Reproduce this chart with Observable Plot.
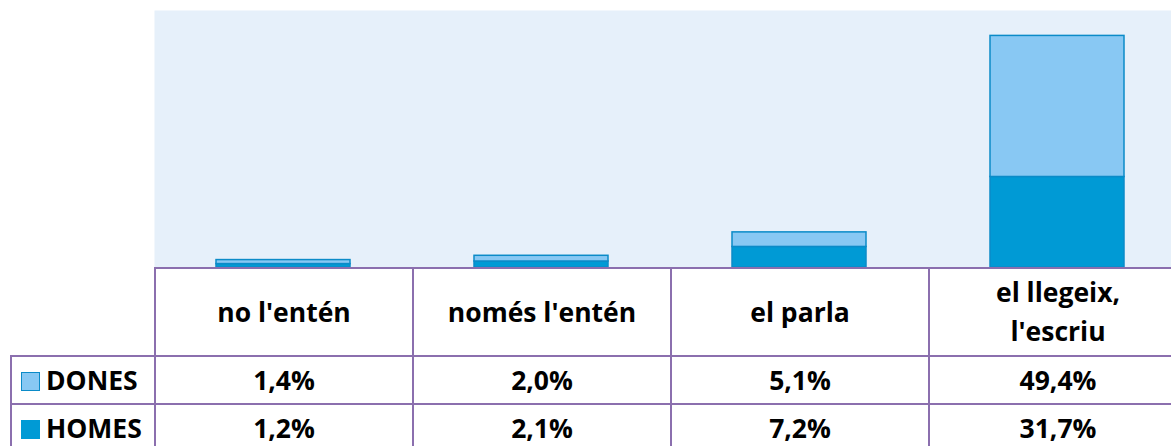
<!DOCTYPE html>
<html>
<head>
<meta charset="utf-8">
<script src="https://cdn.jsdelivr.net/npm/d3@7"></script>
<script src="https://cdn.jsdelivr.net/npm/@observablehq/plot@0.6"></script>
<style>
  html, body { margin: 0; padding: 0; background: #fff; }
  #wrap { position: relative; width: 1171px; height: 446px; overflow: hidden; font-family: "Open Sans", Lato, sans-serif; }
  #chart { position: absolute; left: 0; top: 0; }
  #tbl { position: absolute; left: 10px; top: 267px; border-collapse: collapse; table-layout: fixed; width: 1176px; }
  #tbl td { border: 2px solid #8b6fae; text-align: center; font-weight: bold; font-size: 26.5px; color: #000; padding: 0; }
  #tbl tr.head td { height: 86px; line-height: 39px; }
  #tbl tr.row td { height: 46px; line-height: 46px; }
  #tbl td.blank { border-top: none; border-left: none; border-bottom: 2px solid #8b6fae; }
  #tbl td.lab { text-align: left; padding-left: 9px; }
  .sw { display: inline-block; width: 19px; height: 19px; vertical-align: -1px; margin-right: 6px; box-sizing: border-box; }
</style>
</head>
<body>
<div id="wrap">
  <div id="chart"></div>
  <table id="tbl"></table>
</div>
<script>
const categories = ["no l'entén", "només l'entén", "el parla", "el llegeix, l'escriu"];
const headerLabels = [["no l'entén"], ["només l'entén"], ["el parla"], ["el llegeix,", "l'escriu"]];
const series = ["DONES", "HOMES"];
const dones = [1.4, 2.0, 5.1, 49.4];
const homes = [1.2, 2.1, 7.2, 31.7];
const colors = { DONES: "#88c8f3", HOMES: "#009ad5" };
const strokeColor = "#0b8bc8";

const data = [];
categories.forEach((c, i) => {
  data.push({ cat: c, series: "HOMES", value: homes[i] });
  data.push({ cat: c, series: "DONES", value: dones[i] });
});

const chart = Plot.plot({
  width: 1171,
  height: 267,
  marginTop: 10,
  marginBottom: 0,
  marginLeft: 154,
  marginRight: 0,
  x: { domain: categories, range: [154, 1186], paddingInner: 0.48, paddingOuter: 0.24, axis: null },
  y: { domain: [0, 90], axis: null },
  color: { domain: series, range: [colors.DONES, colors.HOMES] },
  marks: [
    Plot.frame({ fill: "#e6f0fa", stroke: null }),
    Plot.barY(data, Plot.stackY({ order: null }, { x: "cat", y: "value", fill: "series", stroke: strokeColor, strokeWidth: 1.5 }))
  ]
});
document.getElementById("chart").appendChild(chart);

const fmt = v => v.toFixed(1).replace(".", ",") + "%";
const tbl = document.getElementById("tbl");
const colgroup = document.createElement("colgroup");
[144, 258, 258, 258, 258].forEach(w => {
  const col = document.createElement("col");
  col.style.width = w + "px";
  colgroup.appendChild(col);
});
tbl.appendChild(colgroup);

const head = document.createElement("tr");
head.className = "head";
const blank = document.createElement("td");
blank.className = "blank";
head.appendChild(blank);
headerLabels.forEach(lines => {
  const td = document.createElement("td");
  td.innerHTML = lines.join("<br>");
  head.appendChild(td);
});
tbl.appendChild(head);

const rows = { DONES: dones, HOMES: homes };
series.forEach(s => {
  const tr = document.createElement("tr");
  tr.className = "row";
  const lab = document.createElement("td");
  lab.className = "lab";
  const sw = document.createElement("span");
  sw.className = "sw";
  sw.style.background = colors[s];
  sw.style.border = "1.5px solid " + (s === "DONES" ? strokeColor : colors[s]);
  lab.appendChild(sw);
  lab.appendChild(document.createTextNode(s));
  tr.appendChild(lab);
  rows[s].forEach(v => {
    const td = document.createElement("td");
    td.textContent = fmt(v);
    tr.appendChild(td);
  });
  tbl.appendChild(tr);
});
</script>
</body>
</html>
